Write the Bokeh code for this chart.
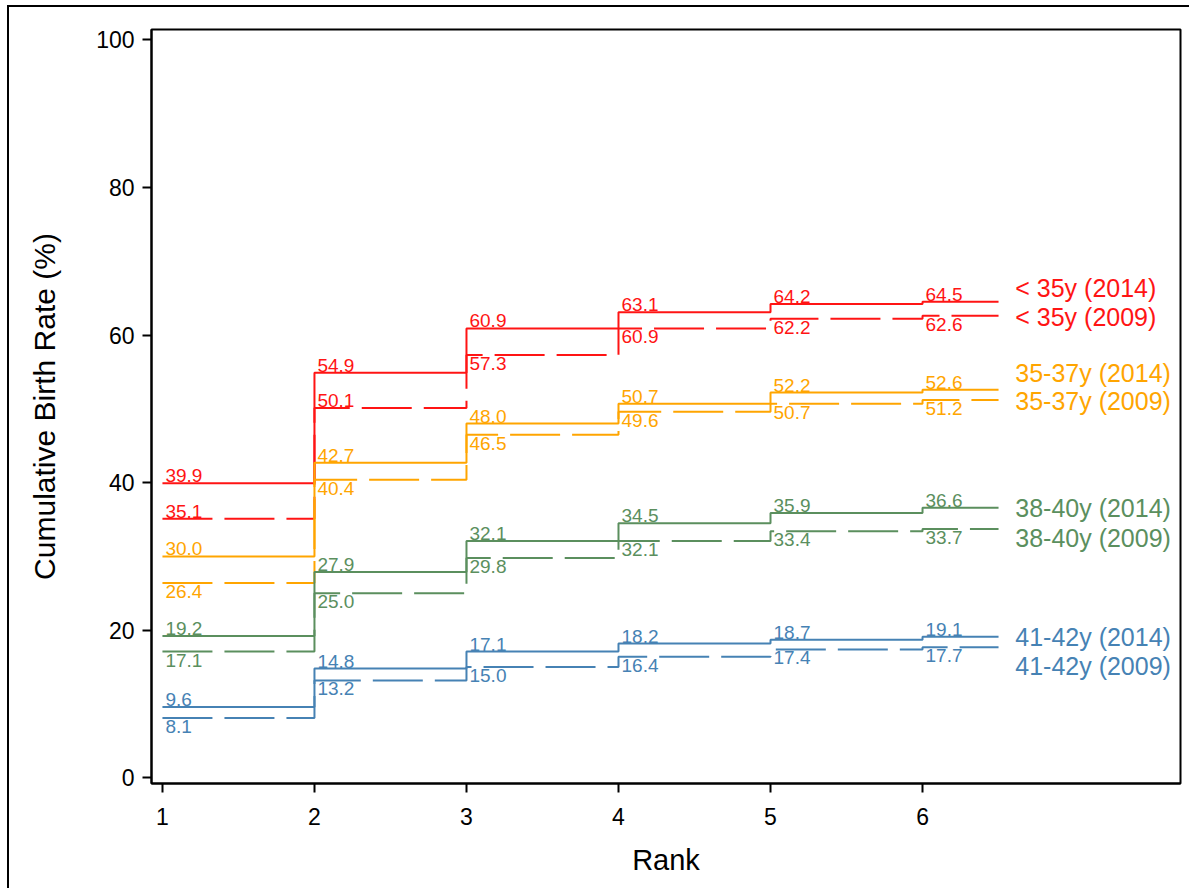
from bokeh.plotting import figure
from bokeh.models import ColumnDataSource, Range1d, FixedTicker
from bokeh.embed import file_html
from bokeh.resources import INLINE
from bokeh.core.properties import value

# ---------------- data ----------------
ranks = [1, 2, 3, 4, 5, 6]
age_groups = ["< 35y", "35-37y", "38-40y", "41-42y"]
years = ["2014", "2009"]

lt35_2014 = [39.9, 54.9, 60.9, 63.1, 64.2, 64.5]
lt35_2009 = [35.1, 50.1, 57.3, 60.9, 62.2, 62.6]
a35_37_2014 = [30.0, 42.7, 48.0, 50.7, 52.2, 52.6]
a35_37_2009 = [26.4, 40.4, 46.5, 49.6, 50.7, 51.2]
a38_40_2014 = [19.2, 27.9, 32.1, 34.5, 35.9, 36.6]
a38_40_2009 = [17.1, 25.0, 29.8, 32.1, 33.4, 33.7]
a41_42_2014 = [9.6, 14.8, 17.1, 18.2, 18.7, 19.1]
a41_42_2009 = [8.1, 13.2, 15.0, 16.4, 17.4, 17.7]

series_2014 = [lt35_2014, a35_37_2014, a38_40_2014, a41_42_2014]
series_2009 = [lt35_2009, a35_37_2009, a38_40_2009, a41_42_2009]

# ---------------- style ----------------
colors = ["#FF1414", "#FFA500", "#5B8F5E", "#4682B4"]
FONT = "Liberation Sans"
step_end = 6.5
end_label_x = 6.61
# pixel offsets of the end labels (negative = up), to avoid overlaps
end_off_2014 = [-14, -17, 0, 0]
end_off_2009 = [1, 1, 9, 19]
# 2009 labels placed above the line (group index, rank index)
above_2009 = {(0, 0), (0, 1)}

p = figure(width=1189, height=888,
           x_range=Range1d(0.928, 7.697), y_range=Range1d(-0.77, 101.4),
           output_backend="svg", toolbar_location=None,
           min_border_left=151, min_border_right=9,
           min_border_top=29, min_border_bottom=105)
# outer page frame (left and top edges visible, as in the original crop)
p.border_fill_alpha = 0
p.styles = {"background": "linear-gradient(#000, #000) 7px 5px / 2px 900px no-repeat, "
                          "linear-gradient(#000, #000) 7px 5px / 1200px 2px no-repeat, #fff"}

p.xgrid.visible = False
p.ygrid.visible = False
p.outline_line_color = "black"
p.outline_line_width = 2
p.background_fill_color = "white"

p.xaxis.ticker = FixedTicker(ticks=ranks)
p.yaxis.ticker = FixedTicker(ticks=[0, 20, 40, 60, 80, 100])
for ax in (p.xaxis, p.yaxis):
    ax.axis_line_color = "black"
    ax.axis_line_width = 2
    ax.major_tick_line_color = "black"
    ax.major_tick_line_width = 2
    ax.major_tick_out = 9
    ax.major_tick_in = 0
    ax.minor_tick_line_color = None
    ax.major_label_text_font = FONT
    ax.major_label_text_font_size = "23px"
    ax.major_label_text_color = "black"
    ax.axis_label_text_font = FONT
    ax.axis_label_text_font_style = "normal"
    ax.axis_label_text_color = "black"
p.xaxis.axis_label = "Rank"
p.yaxis.axis_label = "Cumulative Birth Rate (%)"
p.xaxis.axis_label_text_font_size = "29px"
p.yaxis.axis_label_text_font_size = "30px"
p.xaxis.major_label_standoff = 15
p.xaxis.axis_label_standoff = 16
p.yaxis.major_label_standoff = 8
p.yaxis.axis_label_standoff = 32

for gi, grp in enumerate(age_groups):
    col = colors[gi]
    for year, series, dash in (("2014", series_2014, "solid"), ("2009", series_2009, "50 12")):
        vals = series[gi]
        xs = ranks + [step_end]
        ys = vals + [vals[-1]]
        p.step(xs, ys, mode="after", line_color=col, line_width=2, line_dash=dash)

        bl, yo = [], []
        for ri in range(len(ranks)):
            up = (year == "2014") or ((gi, ri) in above_2009)
            bl.append("bottom" if up else "top")
            yo.append(-1 if up else 2)
        src = ColumnDataSource(dict(x=ranks, y=vals, text=[f"{v:.1f}" for v in vals],
                                    bl=bl, yo=yo))
        p.text(x="x", y="y", text="text", source=src, x_offset=3, y_offset="yo",
               text_baseline="bl", text_align="left", text_color=col,
               text_font=value(FONT), text_font_size="19px")

    # end labels
    for year, series, offs in (("2014", series_2014, end_off_2014), ("2009", series_2009, end_off_2009)):
        src = ColumnDataSource(dict(x=[end_label_x], y=[series[gi][-1]],
                                    text=[f"{grp} ({year})"], yo=[offs[gi]]))
        p.text(x="x", y="y", text="text", source=src, y_offset="yo",
               text_baseline="middle", text_align="left", text_color=col,
               text_font=value(FONT), text_font_size="25px")

open("out.html", "w").write(file_html(p, INLINE))
